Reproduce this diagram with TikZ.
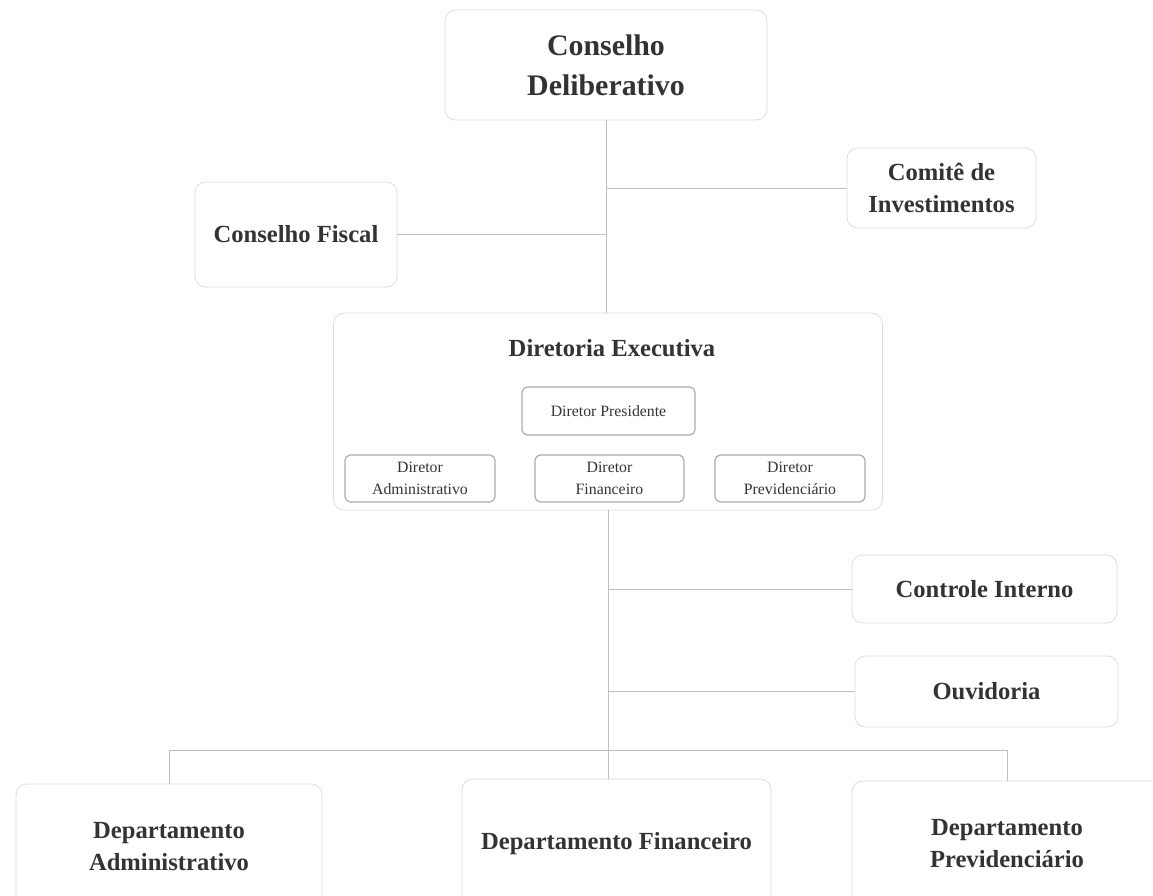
\documentclass[tikz,border=0pt]{standalone}
\usepackage{fontspec}
\setmainfont{Liberation Serif}
\begin{document}
\begin{tikzpicture}[x=0.02cm,y=-0.02cm,
  box/.style={draw=gray!30,rounded corners=6pt,align=center,inner sep=0pt,
    text=black!80,font=\bfseries\fontsize{14}{18}\selectfont},
  dirbox/.style={draw=gray!65,line width=0.7pt,rounded corners=3pt,align=center,
    inner sep=0pt,text=black!80,font=\fontsize{9}{12.5}\selectfont},
  link/.style={draw=gray!50,line width=0.5pt}]
\useasboundingbox (0,0) rectangle (1153,896);

\node[box,minimum width=6.44cm,minimum height=2.2cm,
  font=\bfseries\fontsize{17}{23}\selectfont] (conselho) at (606,65) {Conselho\\Deliberativo};
\node[box,minimum width=4.04cm,minimum height=2.1cm] (fiscal) at (296,234.5) {Conselho Fiscal};
\node[box,minimum width=3.78cm,minimum height=1.6cm] (comite) at (941.5,188) {Comitê de\\Investimentos};

\node[box,minimum width=10.98cm,minimum height=3.94cm] (diretoria) at (608,411.5) {};
\node[text=black!80,font=\bfseries\fontsize{14}{18}\selectfont] (titulo) at (612,348) {Diretoria Executiva};
\node[dirbox,minimum width=3.46cm,minimum height=0.96cm] (presidente) at (608.5,411) {Diretor Presidente};
\node[dirbox,minimum width=3cm,minimum height=0.94cm] (diradm) at (420,478.5) {Diretor\\Administrativo};
\node[dirbox,minimum width=2.98cm,minimum height=0.94cm] (dirfin) at (609.5,478.5) {Diretor\\Financeiro};
\node[dirbox,minimum width=3cm,minimum height=0.94cm] (dirprev) at (790,478.5) {Diretor\\Previdenciário};

\node[box,minimum width=5.3cm,minimum height=1.36cm] (controle) at (984.5,589) {Controle Interno};
\node[box,minimum width=5.26cm,minimum height=1.42cm] (ouvidoria) at (986.5,691.5) {Ouvidoria};

\node[box,minimum width=6.12cm,minimum height=2.5cm] (depadm) at (169,846.5) {Departamento\\Administrativo};
\node[box,minimum width=6.18cm,minimum height=2.6cm] (depfin) at (616.5,844) {Departamento Financeiro};
\node[box,minimum width=6.2cm,minimum height=2.5cm] (depprev) at (1007,843.5) {Departamento\\Previdenciário};

\coordinate (bus) at (608,750);

\draw[link] (conselho.south) -- (conselho.south |- diretoria.north);
\draw[link] (comite.west) -- (comite.west -| conselho.south);
\draw[link] (fiscal.east) -- (fiscal.east -| conselho.south);
\draw[link] (diretoria.south) -- (bus);
\draw[link] (controle.west) -- (controle.west -| bus);
\draw[link] (ouvidoria.west) -- (ouvidoria.west -| bus);
\draw[link] (depadm.north) |- (bus) -| (depprev.north);
\draw[link] (bus) -- (bus |- depfin.north);
\end{tikzpicture}
\end{document}
